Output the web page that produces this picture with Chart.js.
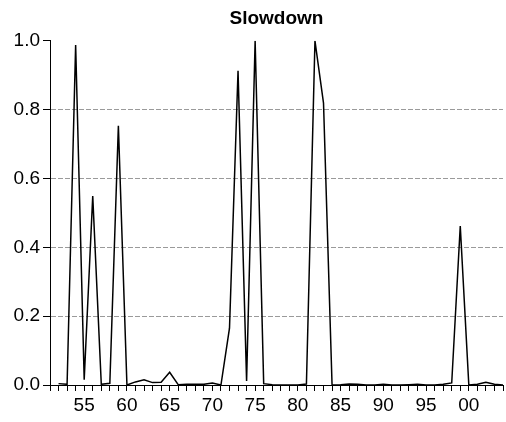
<!DOCTYPE html>
<html>
<head>
<meta charset="utf-8">
<title>Slowdown</title>
<script src="https://cdn.jsdelivr.net/npm/chart.js@4/dist/chart.umd.min.js"></script>
<style>
  html, body { margin: 0; padding: 0; background: #fff; }
  canvas { display: block; }
</style>
</head>
<body>
<canvas id="slowdownChart" width="506" height="422"></canvas>
<script>
// Slowdown index by year, 1952-2004
const years = [
  1952, 1953, 1954, 1955, 1956, 1957, 1958, 1959, 1960, 1961,
  1962, 1963, 1964, 1965, 1966, 1967, 1968, 1969, 1970, 1971,
  1972, 1973, 1974, 1975, 1976, 1977, 1978, 1979, 1980, 1981,
  1982, 1983, 1984, 1985, 1986, 1987, 1988, 1989, 1990, 1991,
  1992, 1993, 1994, 1995, 1996, 1997, 1998, 1999, 2000, 2001,
  2002, 2003, 2004
];
const slowdown = [
  0.004, 0.002, 0.988, 0.015, 0.549, 0.002, 0.005, 0.753, 0.000, 0.009,
  0.015, 0.007, 0.008, 0.037, 0.001, 0.002, 0.002, 0.002, 0.006, 0.000,
  0.165, 0.913, 0.012, 1.000, 0.004, 0.001, 0.000, 0.000, 0.000, 0.003,
  1.000, 0.819, 0.000, 0.001, 0.003, 0.002, 0.000, 0.000, 0.002, 0.000,
  0.000, 0.001, 0.002, 0.000, 0.000, 0.002, 0.006, 0.462, 0.000, 0.002,
  0.008, 0.002, 0.000
];
const yTicks = [0, 0.2, 0.4, 0.6, 0.8, 1.0];

const fontFamily = "'Liberation Sans', Arial, Helvetica, sans-serif";

const ctx = document.getElementById("slowdownChart").getContext("2d");
new Chart(ctx, {
  type: "line",
  data: {
    datasets: [{
      label: "Slowdown",
      data: years.map((y, i) => ({ x: y, y: slowdown[i] })),
      borderColor: "#000",
      borderWidth: 1.5,
      pointRadius: 0,
      tension: 0,
      fill: false
    }]
  },
  options: {
    responsive: false,
    devicePixelRatio: 1,
    animation: false,
    layout: { padding: 0 },
    plugins: {
      legend: { display: false },
      tooltip: { enabled: false },
      title: {
        display: true,
        fullSize: false, // centre over the plot area, not the whole canvas
        text: "Slowdown",
        color: "#000",
        font: { family: fontFamily, size: 19, weight: "bold" },
        padding: { top: 7, bottom: 11 }
      }
    },
    scales: {
      x: {
        type: "linear",
        min: 1951,
        max: 2004,
        afterFit: s => { s.height = 37; },
        afterBuildTicks: s => {
          s.ticks = [];
          for (let y = 1951; y <= 2004; y++) s.ticks.push({ value: y });
        },
        ticks: {
          autoSkip: false,
          maxRotation: 0,
          padding: 3,
          color: "#000",
          font: { family: fontFamily, size: 19 },
          callback: v => v % 5 === 0 ? String(v % 100).padStart(2, "0") : ""
        },
        grid: {
          drawOnChartArea: false,
          tickLength: 6,
          tickColor: "#000",
          tickWidth: 1
        },
        border: { color: "#000", width: 1 }
      },
      y: {
        min: 0,
        max: 1,
        afterFit: s => { s.width = 50; },
        afterBuildTicks: s => { s.ticks = yTicks.map(v => ({ value: v })); },
        ticks: {
          padding: 3,
          color: "#000",
          font: { family: fontFamily, size: 19 },
          callback: v => v.toFixed(1)
        },
        grid: {
          color: c => (c.tick && c.tick.value > 0 && c.tick.value < 1) ? "#9a9a9a" : "rgba(0,0,0,0)",
          tickColor: "#000",
          tickLength: 7,
          lineWidth: 1
        },
        border: { color: "#000", width: 1, dash: [5, 2] }
      }
    }
  }
});
</script>
</body>
</html>
